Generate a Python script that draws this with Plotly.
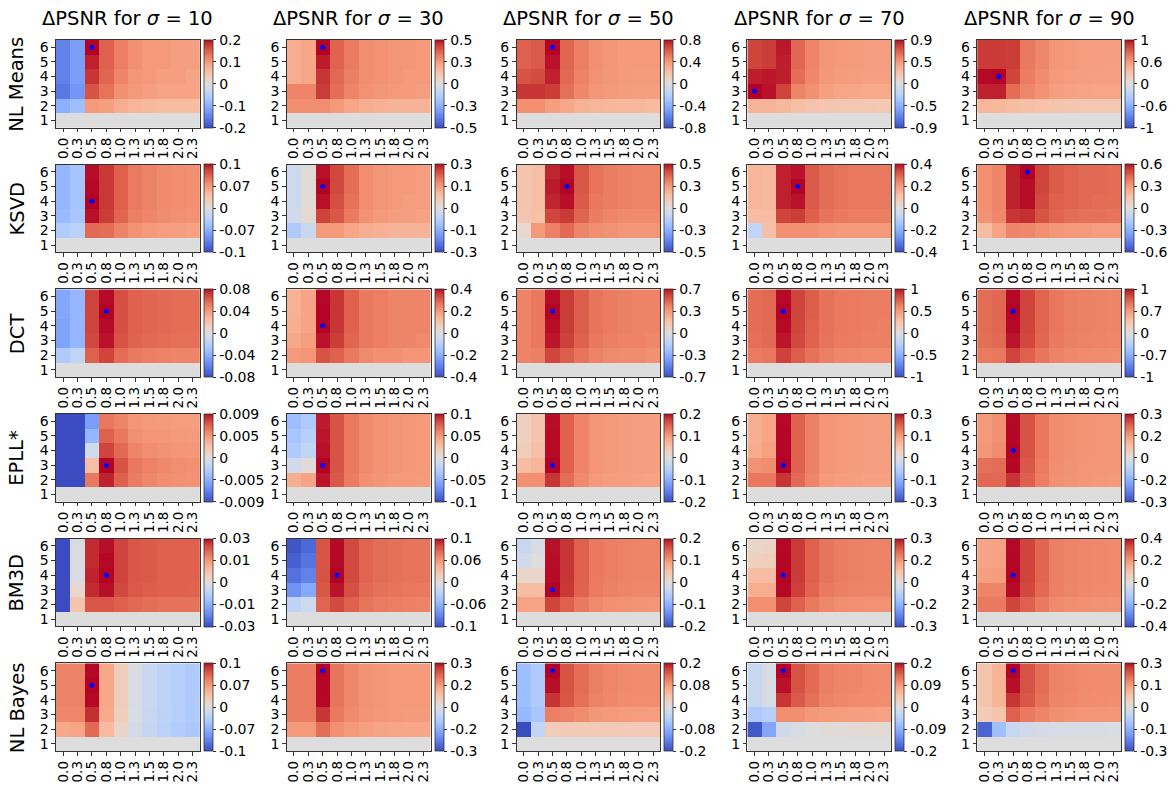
import plotly.graph_objects as go

METHODS = ["NL Means", "KSVD", "DCT", "EPLL*", "BM3D", "NL Bayes"]
SIGMAS = [10, 30, 50, 70, 90]
X_LABELS = ["0.0", "0.3", "0.5", "0.8", "1.0", "1.3", "1.5", "1.8", "2.0", "2.3"]
Y_VALUES = [1, 2, 3, 4, 5, 6]
ZERO = [0.0] * 10

# each panel: rows listed from y=1 (bottom) to y=6 (top), columns follow X_LABELS
NLM_10 = [ZERO,
    [-0.10, -0.08, 0.10, 0.095, 0.08, 0.07, 0.065, 0.06, 0.06, 0.06],
    [-0.16, -0.13, 0.16, 0.135, 0.11, 0.10, 0.095, 0.09, 0.09, 0.09],
    [-0.15, -0.12, 0.18, 0.145, 0.12, 0.105, 0.10, 0.095, 0.095, 0.09],
    [-0.15, -0.12, 0.19, 0.15, 0.125, 0.11, 0.10, 0.10, 0.095, 0.095],
    [-0.15, -0.12, 0.20, 0.15, 0.125, 0.11, 0.10, 0.10, 0.095, 0.095]]
NLM_30 = [ZERO,
    [0.28, 0.28, 0.28, 0.25, 0.22, 0.20, 0.19, 0.18, 0.18, 0.18],
    [0.30, 0.30, 0.44, 0.35, 0.30, 0.27, 0.26, 0.25, 0.25, 0.24],
    [0.20, 0.22, 0.45, 0.36, 0.31, 0.28, 0.27, 0.26, 0.25, 0.25],
    [0.20, 0.22, 0.48, 0.37, 0.32, 0.28, 0.27, 0.26, 0.26, 0.25],
    [0.20, 0.22, 0.50, 0.37, 0.32, 0.28, 0.27, 0.26, 0.26, 0.25]]
NLM_50 = [ZERO,
    [0.44, 0.44, 0.38, 0.34, 0.30, 0.28, 0.27, 0.26, 0.26, 0.25],
    [0.72, 0.72, 0.70, 0.55, 0.47, 0.42, 0.40, 0.39, 0.38, 0.38],
    [0.64, 0.66, 0.76, 0.57, 0.49, 0.43, 0.41, 0.40, 0.39, 0.39],
    [0.60, 0.62, 0.78, 0.58, 0.50, 0.44, 0.42, 0.40, 0.40, 0.40],
    [0.60, 0.62, 0.80, 0.58, 0.50, 0.44, 0.42, 0.40, 0.40, 0.40]]
NLM_70 = [ZERO,
    [0.32, 0.32, 0.29, 0.25, 0.23, 0.21, 0.20, 0.20, 0.20, 0.19],
    [0.90, 0.88, 0.77, 0.54, 0.49, 0.42, 0.40, 0.39, 0.38, 0.38],
    [0.86, 0.87, 0.86, 0.63, 0.53, 0.46, 0.44, 0.43, 0.42, 0.42],
    [0.77, 0.79, 0.86, 0.65, 0.54, 0.47, 0.45, 0.44, 0.43, 0.43],
    [0.77, 0.79, 0.87, 0.65, 0.54, 0.47, 0.45, 0.44, 0.43, 0.43]]
NLM_90 = [ZERO,
    [0.42, 0.40, 0.36, 0.34, 0.32, 0.30, 0.28, 0.27, 0.27, 0.26],
    [1.14, 1.14, 0.84, 0.70, 0.64, 0.57, 0.55, 0.54, 0.53, 0.53],
    [1.19, 1.20, 1.02, 0.76, 0.68, 0.60, 0.58, 0.57, 0.56, 0.56],
    [1.06, 1.06, 1.05, 0.78, 0.70, 0.62, 0.60, 0.58, 0.58, 0.57],
    [1.06, 1.06, 1.05, 0.78, 0.70, 0.62, 0.60, 0.58, 0.58, 0.57]]

KSVD_10 = [ZERO,
    [-0.040, -0.033, 0.100, 0.098, 0.085, 0.075, 0.070, 0.068, 0.066, 0.065],
    [-0.060, -0.048, 0.137, 0.123, 0.103, 0.088, 0.083, 0.079, 0.077, 0.076],
    [-0.063, -0.050, 0.140, 0.125, 0.105, 0.090, 0.085, 0.080, 0.078, 0.077],
    [-0.063, -0.050, 0.139, 0.125, 0.105, 0.090, 0.085, 0.080, 0.078, 0.077],
    [-0.063, -0.050, 0.138, 0.125, 0.105, 0.090, 0.085, 0.080, 0.078, 0.077]]
KSVD_30 = [ZERO,
    [-0.075, -0.035, 0.125, 0.125, 0.11, 0.10, 0.095, 0.09, 0.09, 0.09],
    [-0.025, 0.015, 0.215, 0.195, 0.16, 0.135, 0.125, 0.12, 0.12, 0.115],
    [-0.030, 0.010, 0.245, 0.205, 0.17, 0.14, 0.13, 0.125, 0.12, 0.12],
    [-0.030, 0.010, 0.250, 0.210, 0.175, 0.14, 0.13, 0.125, 0.125, 0.12],
    [-0.030, 0.010, 0.245, 0.210, 0.175, 0.14, 0.13, 0.125, 0.125, 0.12]]
KSVD_50 = [ZERO,
    [0.04, 0.26, 0.32, 0.37, 0.31, 0.29, 0.28, 0.27, 0.27, 0.27],
    [0.12, 0.14, 0.44, 0.46, 0.38, 0.33, 0.31, 0.30, 0.30, 0.30],
    [0.13, 0.15, 0.49, 0.51, 0.40, 0.34, 0.33, 0.32, 0.31, 0.31],
    [0.13, 0.15, 0.50, 0.52, 0.41, 0.35, 0.33, 0.32, 0.31, 0.31],
    [0.13, 0.15, 0.49, 0.51, 0.41, 0.35, 0.33, 0.32, 0.31, 0.31]]
KSVD_70 = [ZERO,
    [-0.08, 0.11, 0.22, 0.22, 0.22, 0.21, 0.20, 0.20, 0.20, 0.20],
    [0.12, 0.12, 0.34, 0.35, 0.30, 0.27, 0.26, 0.25, 0.25, 0.25],
    [0.14, 0.13, 0.38, 0.39, 0.31, 0.28, 0.27, 0.26, 0.26, 0.26],
    [0.14, 0.13, 0.38, 0.40, 0.31, 0.28, 0.27, 0.26, 0.26, 0.26],
    [0.14, 0.13, 0.38, 0.39, 0.31, 0.28, 0.27, 0.26, 0.26, 0.26]]
KSVD_90 = [ZERO,
    [0.18, 0.27, 0.36, 0.35, 0.33, 0.31, 0.30, 0.30, 0.29, 0.29],
    [0.32, 0.35, 0.54, 0.55, 0.48, 0.44, 0.42, 0.41, 0.41, 0.40],
    [0.33, 0.36, 0.57, 0.59, 0.50, 0.45, 0.44, 0.43, 0.42, 0.42],
    [0.33, 0.36, 0.57, 0.59, 0.51, 0.46, 0.44, 0.43, 0.43, 0.42],
    [0.33, 0.36, 0.57, 0.60, 0.51, 0.46, 0.44, 0.43, 0.43, 0.42]]

DCT_10 = [ZERO,
    [-0.024, -0.016, 0.060, 0.068, 0.056, 0.052, 0.050, 0.049, 0.048, 0.048],
    [-0.046, -0.037, 0.067, 0.078, 0.064, 0.059, 0.057, 0.056, 0.055, 0.055],
    [-0.046, -0.037, 0.068, 0.079, 0.065, 0.060, 0.058, 0.057, 0.056, 0.056],
    [-0.044, -0.036, 0.068, 0.080, 0.065, 0.060, 0.058, 0.057, 0.056, 0.056],
    [-0.044, -0.036, 0.068, 0.079, 0.065, 0.060, 0.058, 0.057, 0.056, 0.056]]
DCT_30 = [ZERO,
    [0.20, 0.21, 0.32, 0.30, 0.26, 0.23, 0.22, 0.22, 0.21, 0.21],
    [0.17, 0.19, 0.39, 0.35, 0.29, 0.26, 0.25, 0.24, 0.24, 0.23],
    [0.16, 0.18, 0.40, 0.36, 0.30, 0.26, 0.25, 0.24, 0.24, 0.24],
    [0.15, 0.18, 0.399, 0.36, 0.30, 0.26, 0.25, 0.24, 0.24, 0.24],
    [0.15, 0.18, 0.398, 0.36, 0.30, 0.26, 0.25, 0.24, 0.24, 0.24]]
DCT_50 = [ZERO,
    [0.40, 0.41, 0.56, 0.50, 0.44, 0.40, 0.38, 0.37, 0.37, 0.36],
    [0.40, 0.43, 0.64, 0.57, 0.49, 0.43, 0.41, 0.40, 0.40, 0.39],
    [0.40, 0.43, 0.65, 0.58, 0.50, 0.44, 0.42, 0.41, 0.40, 0.40],
    [0.40, 0.43, 0.66, 0.58, 0.50, 0.44, 0.42, 0.41, 0.40, 0.40],
    [0.40, 0.43, 0.65, 0.58, 0.50, 0.44, 0.42, 0.41, 0.40, 0.40]]
DCT_70 = [ZERO,
    [0.64, 0.66, 0.86, 0.76, 0.68, 0.62, 0.59, 0.58, 0.57, 0.57],
    [0.69, 0.71, 0.97, 0.84, 0.74, 0.67, 0.64, 0.63, 0.62, 0.62],
    [0.70, 0.72, 0.99, 0.85, 0.75, 0.68, 0.65, 0.64, 0.63, 0.62],
    [0.70, 0.72, 1.00, 0.85, 0.76, 0.68, 0.65, 0.64, 0.63, 0.63],
    [0.70, 0.72, 0.99, 0.85, 0.76, 0.68, 0.65, 0.64, 0.63, 0.63]]
DCT_90 = [ZERO,
    [0.90, 0.92, 1.20, 1.05, 0.93, 0.85, 0.81, 0.80, 0.79, 0.78],
    [0.97, 1.00, 1.36, 1.17, 1.01, 0.91, 0.87, 0.85, 0.84, 0.83],
    [0.98, 1.01, 1.39, 1.19, 1.02, 0.92, 0.88, 0.86, 0.85, 0.84],
    [0.98, 1.01, 1.40, 1.19, 1.03, 0.92, 0.88, 0.86, 0.85, 0.84],
    [0.98, 1.01, 1.39, 1.19, 1.03, 0.92, 0.88, 0.86, 0.85, 0.84]]

EPLL_10 = [ZERO,
    [-0.02, -0.02, 0.0062, 0.0090, 0.0071, 0.0060, 0.0056, 0.0053, 0.0052, 0.0051],
    [-0.02, -0.02, 0.0028, 0.0095, 0.0076, 0.0062, 0.0058, 0.0055, 0.0053, 0.0052],
    [-0.02, -0.02, -0.0010, 0.0081, 0.0068, 0.0057, 0.0053, 0.0051, 0.0050, 0.0049],
    [-0.02, -0.02, -0.0043, 0.0071, 0.0062, 0.0052, 0.0050, 0.0049, 0.0048, 0.0047],
    [-0.02, -0.02, -0.0057, 0.0062, 0.0057, 0.0050, 0.0048, 0.0047, 0.0046, 0.0046]]
EPLL_30 = [ZERO,
    [0.040, 0.045, 0.097, 0.078, 0.063, 0.055, 0.052, 0.050, 0.050, 0.049],
    [-0.010, 0.003, 0.100, 0.080, 0.065, 0.057, 0.054, 0.052, 0.051, 0.050],
    [-0.030, -0.020, 0.098, 0.080, 0.065, 0.057, 0.054, 0.052, 0.051, 0.050],
    [-0.035, -0.025, 0.097, 0.080, 0.065, 0.057, 0.054, 0.052, 0.051, 0.050],
    [-0.040, -0.030, 0.096, 0.080, 0.065, 0.057, 0.054, 0.052, 0.051, 0.050]]
EPLL_50 = [ZERO,
    [0.110, 0.110, 0.180, 0.140, 0.115, 0.100, 0.097, 0.095, 0.093, 0.092],
    [0.060, 0.070, 0.200, 0.150, 0.120, 0.105, 0.100, 0.098, 0.096, 0.095],
    [0.035, 0.055, 0.198, 0.150, 0.120, 0.105, 0.100, 0.098, 0.096, 0.095],
    [0.030, 0.050, 0.198, 0.150, 0.120, 0.105, 0.100, 0.098, 0.096, 0.095],
    [0.030, 0.050, 0.197, 0.150, 0.120, 0.105, 0.100, 0.098, 0.096, 0.095]]
EPLL_70 = [ZERO,
    [0.170, 0.170, 0.235, 0.185, 0.155, 0.130, 0.126, 0.123, 0.120, 0.120],
    [0.140, 0.145, 0.260, 0.195, 0.160, 0.135, 0.130, 0.127, 0.125, 0.125],
    [0.105, 0.120, 0.259, 0.195, 0.160, 0.135, 0.130, 0.127, 0.125, 0.125],
    [0.100, 0.115, 0.259, 0.195, 0.160, 0.135, 0.130, 0.127, 0.125, 0.125],
    [0.100, 0.115, 0.258, 0.195, 0.160, 0.135, 0.130, 0.127, 0.125, 0.125]]
EPLL_90 = [ZERO,
    [0.230, 0.230, 0.290, 0.240, 0.200, 0.175, 0.170, 0.165, 0.163, 0.162],
    [0.220, 0.225, 0.319, 0.250, 0.205, 0.178, 0.172, 0.168, 0.166, 0.164],
    [0.165, 0.180, 0.320, 0.255, 0.210, 0.180, 0.175, 0.170, 0.168, 0.166],
    [0.160, 0.175, 0.319, 0.255, 0.210, 0.180, 0.175, 0.170, 0.168, 0.166],
    [0.160, 0.175, 0.318, 0.255, 0.210, 0.180, 0.175, 0.170, 0.168, 0.166]]

BM3D_10 = [ZERO,
    [-0.05, 0.007, 0.0220, 0.0220, 0.0210, 0.0200, 0.0195, 0.0190, 0.0190, 0.0190],
    [-0.05, 0.002, 0.0260, 0.0275, 0.0235, 0.0218, 0.0212, 0.0210, 0.0208, 0.0207],
    [-0.05, -0.001, 0.0265, 0.0280, 0.0240, 0.0220, 0.0215, 0.0210, 0.0210, 0.0210],
    [-0.05, -0.001, 0.0260, 0.0278, 0.0240, 0.0220, 0.0215, 0.0210, 0.0210, 0.0210],
    [-0.05, -0.001, 0.0260, 0.0275, 0.0240, 0.0220, 0.0215, 0.0210, 0.0210, 0.0210]]
BM3D_30 = [ZERO,
    [-0.025, -0.015, 0.088, 0.100, 0.090, 0.080, 0.077, 0.075, 0.074, 0.073],
    [-0.080, -0.065, 0.094, 0.117, 0.098, 0.086, 0.082, 0.080, 0.079, 0.078],
    [-0.100, -0.090, 0.096, 0.120, 0.100, 0.088, 0.084, 0.082, 0.080, 0.080],
    [-0.110, -0.098, 0.095, 0.119, 0.100, 0.088, 0.084, 0.082, 0.080, 0.080],
    [-0.115, -0.105, 0.095, 0.119, 0.100, 0.088, 0.084, 0.082, 0.080, 0.080]]
BM3D_50 = [ZERO,
    [0.090, 0.090, 0.170, 0.150, 0.130, 0.115, 0.110, 0.108, 0.106, 0.105],
    [0.060, 0.060, 0.200, 0.178, 0.148, 0.128, 0.123, 0.120, 0.118, 0.118],
    [0.020, 0.020, 0.198, 0.180, 0.150, 0.130, 0.125, 0.122, 0.120, 0.120],
    [-0.020, 0.000, 0.197, 0.180, 0.150, 0.130, 0.125, 0.122, 0.120, 0.120],
    [-0.030, -0.010, 0.196, 0.180, 0.150, 0.130, 0.125, 0.122, 0.120, 0.120]]
BM3D_70 = [ZERO,
    [0.165, 0.165, 0.255, 0.225, 0.195, 0.175, 0.168, 0.165, 0.163, 0.162],
    [0.120, 0.120, 0.298, 0.260, 0.220, 0.195, 0.186, 0.182, 0.180, 0.180],
    [0.090, 0.090, 0.300, 0.265, 0.225, 0.200, 0.190, 0.185, 0.183, 0.182],
    [0.045, 0.050, 0.299, 0.265, 0.225, 0.200, 0.190, 0.185, 0.183, 0.182],
    [0.030, 0.035, 0.298, 0.265, 0.225, 0.200, 0.190, 0.185, 0.183, 0.182]]
BM3D_90 = [ZERO,
    [0.260, 0.260, 0.340, 0.300, 0.260, 0.230, 0.222, 0.218, 0.215, 0.213],
    [0.240, 0.240, 0.395, 0.335, 0.285, 0.248, 0.238, 0.232, 0.230, 0.228],
    [0.190, 0.195, 0.400, 0.340, 0.290, 0.250, 0.240, 0.235, 0.232, 0.230],
    [0.180, 0.185, 0.399, 0.340, 0.290, 0.250, 0.240, 0.235, 0.232, 0.230],
    [0.180, 0.185, 0.398, 0.340, 0.290, 0.250, 0.240, 0.235, 0.232, 0.230]]

NLB_10 = [ZERO,
    [0.060, 0.062, 0.100, 0.045, 0.015, -0.010, -0.024, -0.033, -0.040, -0.045],
    [0.083, 0.083, 0.128, 0.058, 0.024, -0.006, -0.021, -0.031, -0.038, -0.043],
    [0.085, 0.085, 0.139, 0.060, 0.025, -0.005, -0.020, -0.030, -0.037, -0.042],
    [0.085, 0.085, 0.140, 0.060, 0.025, -0.005, -0.020, -0.030, -0.037, -0.042],
    [0.085, 0.085, 0.139, 0.060, 0.025, -0.005, -0.020, -0.030, -0.037, -0.042]]
NLB_30 = [ZERO,
    [0.150, 0.150, 0.210, 0.165, 0.150, 0.140, 0.135, 0.133, 0.132, 0.130],
    [0.190, 0.190, 0.270, 0.195, 0.172, 0.158, 0.153, 0.150, 0.148, 0.148],
    [0.190, 0.190, 0.298, 0.200, 0.175, 0.160, 0.155, 0.152, 0.150, 0.150],
    [0.190, 0.190, 0.299, 0.200, 0.175, 0.160, 0.155, 0.152, 0.150, 0.150],
    [0.190, 0.190, 0.300, 0.200, 0.175, 0.160, 0.155, 0.152, 0.150, 0.150]]
NLB_50 = [ZERO,
    [-0.160, -0.030, 0.030, 0.032, 0.033, 0.033, 0.033, 0.032, 0.032, 0.032],
    [-0.070, -0.055, 0.100, 0.096, 0.090, 0.082, 0.080, 0.078, 0.077, 0.076],
    [-0.065, -0.048, 0.145, 0.126, 0.110, 0.098, 0.094, 0.091, 0.089, 0.089],
    [-0.065, -0.048, 0.157, 0.128, 0.112, 0.100, 0.095, 0.092, 0.090, 0.090],
    [-0.065, -0.048, 0.160, 0.128, 0.112, 0.100, 0.095, 0.092, 0.090, 0.090]]
NLB_70 = [ZERO,
    [-0.170, -0.100, -0.018, -0.008, 0.000, 0.005, 0.007, 0.008, 0.009, 0.009],
    [-0.054, -0.045, 0.100, 0.100, 0.092, 0.088, 0.086, 0.085, 0.084, 0.083],
    [-0.027, -0.009, 0.162, 0.140, 0.124, 0.110, 0.106, 0.103, 0.101, 0.100],
    [-0.027, -0.009, 0.176, 0.145, 0.127, 0.113, 0.108, 0.105, 0.103, 0.102],
    [-0.027, -0.009, 0.180, 0.145, 0.127, 0.113, 0.108, 0.105, 0.103, 0.102]]
NLB_90 = [ZERO,
    [-0.250, -0.110, -0.042, -0.028, -0.020, -0.015, -0.014, -0.013, -0.013, -0.012],
    [0.055, 0.070, 0.210, 0.182, 0.168, 0.155, 0.150, 0.147, 0.145, 0.144],
    [0.070, 0.100, 0.252, 0.220, 0.190, 0.168, 0.162, 0.158, 0.156, 0.155],
    [0.070, 0.100, 0.275, 0.225, 0.195, 0.170, 0.165, 0.160, 0.158, 0.157],
    [0.070, 0.100, 0.280, 0.225, 0.195, 0.170, 0.165, 0.160, 0.158, 0.157]]

PANELS = [
    [NLM_10, NLM_30, NLM_50, NLM_70, NLM_90],
    [KSVD_10, KSVD_30, KSVD_50, KSVD_70, KSVD_90],
    [DCT_10, DCT_30, DCT_50, DCT_70, DCT_90],
    [EPLL_10, EPLL_30, EPLL_50, EPLL_70, EPLL_90],
    [BM3D_10, BM3D_30, BM3D_50, BM3D_70, BM3D_90],
    [NLB_10, NLB_30, NLB_50, NLB_70, NLB_90],
]

# colour limits (symmetric) per panel
VMAX = [
    [0.2, 0.5, 0.8, 0.9, 1.2],
    [0.14, 0.25, 0.52, 0.4, 0.6],
    [0.08, 0.4, 0.66, 1.0, 1.4],
    [0.0095, 0.1, 0.2, 0.26, 0.32],
    [0.028, 0.12, 0.2, 0.3, 0.4],
    [0.14, 0.3, 0.16, 0.18, 0.28],
]
# colorbar tick labels: (top, middle)
CB_LABELS = [
    [("0.2", "0.1"), ("0.5", "0.3"), ("0.8", "0.4"), ("0.9", "0.5"), ("1", "0.6")],
    [("0.1", "0.07"), ("0.3", "0.1"), ("0.5", "0.3"), ("0.4", "0.2"), ("0.6", "0.3")],
    [("0.08", "0.04"), ("0.4", "0.2"), ("0.7", "0.3"), ("1", "0.5"), ("1", "0.7")],
    [("0.009", "0.005"), ("0.1", "0.05"), ("0.2", "0.1"), ("0.3", "0.1"), ("0.3", "0.2")],
    [("0.03", "0.01"), ("0.1", "0.06"), ("0.2", "0.1"), ("0.3", "0.2"), ("0.4", "0.2")],
    [("0.1", "0.07"), ("0.3", "0.2"), ("0.2", "0.08"), ("0.2", "0.09"), ("0.3", "0.1")],
]

COOLWARM = [
    (0.0, (59, 76, 192)), (0.03125, (68, 90, 204)), (0.0625, (77, 104, 215)),
    (0.09375, (87, 117, 225)), (0.125, (98, 130, 234)), (0.15625, (108, 142, 241)),
    (0.1875, (119, 154, 247)), (0.21875, (130, 165, 251)), (0.25, (141, 176, 254)),
    (0.28125, (152, 185, 255)), (0.3125, (163, 194, 255)), (0.34375, (174, 201, 253)),
    (0.375, (184, 208, 249)), (0.40625, (194, 213, 244)), (0.4375, (204, 217, 238)),
    (0.46875, (213, 219, 230)), (0.5, (221, 221, 221)), (0.53125, (229, 216, 209)),
    (0.5625, (236, 211, 197)), (0.59375, (241, 204, 185)), (0.625, (245, 196, 173)),
    (0.65625, (247, 187, 160)), (0.6875, (247, 177, 148)), (0.71875, (247, 166, 135)),
    (0.75, (244, 154, 123)), (0.78125, (241, 141, 111)), (0.8125, (236, 127, 99)),
    (0.84375, (229, 112, 88)), (0.875, (222, 96, 77)), (0.90625, (213, 80, 66)),
    (0.9375, (203, 62, 56)), (0.96875, (192, 40, 47)), (1.0, (180, 4, 38)),
]
COLORSCALE = [[s, "rgb(%d,%d,%d)" % c] for s, c in COOLWARM]

# the page body has an 8 px margin, so the figure is drawn 8 px in from the corner
OFF = 8
W, H = 1176 - OFF, 787 - OFF
COL_LEFT = [55 - OFF, 286 - OFF, 516 - OFF, 747 - OFF, 977 - OFF]
PANEL_W = 144
ROW_TOP = 39 - OFF
ROW_STEP = 125
PANEL_H = 88
FONT = "DejaVu Sans"

fig = go.Figure()
layout = dict(width=W, height=H, autosize=False, margin=dict(l=0, r=0, t=0, b=0),
              paper_bgcolor="white", plot_bgcolor="white", showlegend=False,
              font=dict(family=FONT, size=13.5, color="black"))
annotations = []
x_idx = list(range(len(X_LABELS)))

for r, method in enumerate(METHODS):
    for c, sigma in enumerate(SIGMAS):
        k = r * 5 + c + 1
        xa = "x" if k == 1 else "x%d" % k
        ya = "y" if k == 1 else "y%d" % k
        z = PANELS[r][c]
        v = VMAX[r][c]
        top_lab, mid_lab = CB_LABELS[r][c]
        left = COL_LEFT[c]
        top = ROW_TOP + ROW_STEP * r
        fig.add_trace(go.Heatmap(
            z=z, x=x_idx, y=Y_VALUES, xaxis=xa, yaxis=ya,
            colorscale=COLORSCALE, zmin=-v, zmax=v, hoverinfo="skip",
            colorbar=dict(
                x=(left + PANEL_W + 4) / W, xanchor="left",
                y=1 - (top + PANEL_H / 2) / H, yanchor="middle",
                len=PANEL_H / H, lenmode="fraction",
                thickness=9, thicknessmode="pixels", xpad=0, ypad=0,
                outlinewidth=0.8, outlinecolor="#333",
                tickvals=[-v, -v / 2, 0, v / 2, v],
                ticktext=["-" + top_lab, "-" + mid_lab, "0", mid_lab, top_lab],
                ticks="outside", ticklen=3.5, tickwidth=0.8, tickcolor="#333",
                tickfont=dict(family=FONT, size=14, color="black"),
            ),
        ))
        # mark the best cell
        best = max(((z[i][j], i, j) for i in range(len(z)) for j in range(len(z[i]))))
        fig.add_trace(go.Scatter(
            x=[x_idx[best[2]]], y=[Y_VALUES[best[1]]], xaxis=xa, yaxis=ya,
            mode="markers", marker=dict(color="blue", size=5), hoverinfo="skip",
        ))
        axkey = "xaxis" if k == 1 else "xaxis%d" % k
        aykey = "yaxis" if k == 1 else "yaxis%d" % k
        layout[axkey] = dict(
            domain=[left / W, (left + PANEL_W) / W], anchor=ya,
            range=[-0.5, 9.5], tickvals=x_idx, ticktext=X_LABELS, tickangle=-90,
            ticks="outside", ticklen=3.5, tickwidth=0.8, tickcolor="#333",
            showline=True, linecolor="#333", linewidth=1, mirror=True,
            showgrid=False, zeroline=False, fixedrange=True,
            tickfont=dict(family=FONT, size=13.5, color="black"),
        )
        layout[aykey] = dict(
            domain=[1 - (top + PANEL_H) / H, 1 - top / H], anchor=xa,
            range=[0.5, 6.5], tickvals=Y_VALUES, ticktext=[str(y) for y in Y_VALUES],
            ticks="outside", ticklen=3.5, tickwidth=0.8, tickcolor="#333",
            showline=True, linecolor="#333", linewidth=1, mirror=True,
            showgrid=False, zeroline=False, fixedrange=True,
            tickfont=dict(family=FONT, size=14, color="black"),
        )
        if r == 0:
            annotations.append(dict(
                text="ΔPSNR for <i>σ</i> = %d" % sigma, xref="paper", yref="paper",
                x=(left + PANEL_W / 2) / W, y=1 - (18 - OFF) / H,
                xanchor="center", yanchor="middle",
                showarrow=False, font=dict(family=FONT, size=19.5, color="black"),
            ))
    top = ROW_TOP + ROW_STEP * r
    annotations.append(dict(
        text=method, xref="paper", yref="paper", x=(16 - OFF) / W,
        y=1 - (top + PANEL_H / 2) / H,
        xanchor="center", yanchor="middle", textangle=-90, showarrow=False,
        font=dict(family=FONT, size=19.5, color="black"),
    ))

layout["annotations"] = annotations
fig.update_layout(**layout)
fig.write_html("out.html")
